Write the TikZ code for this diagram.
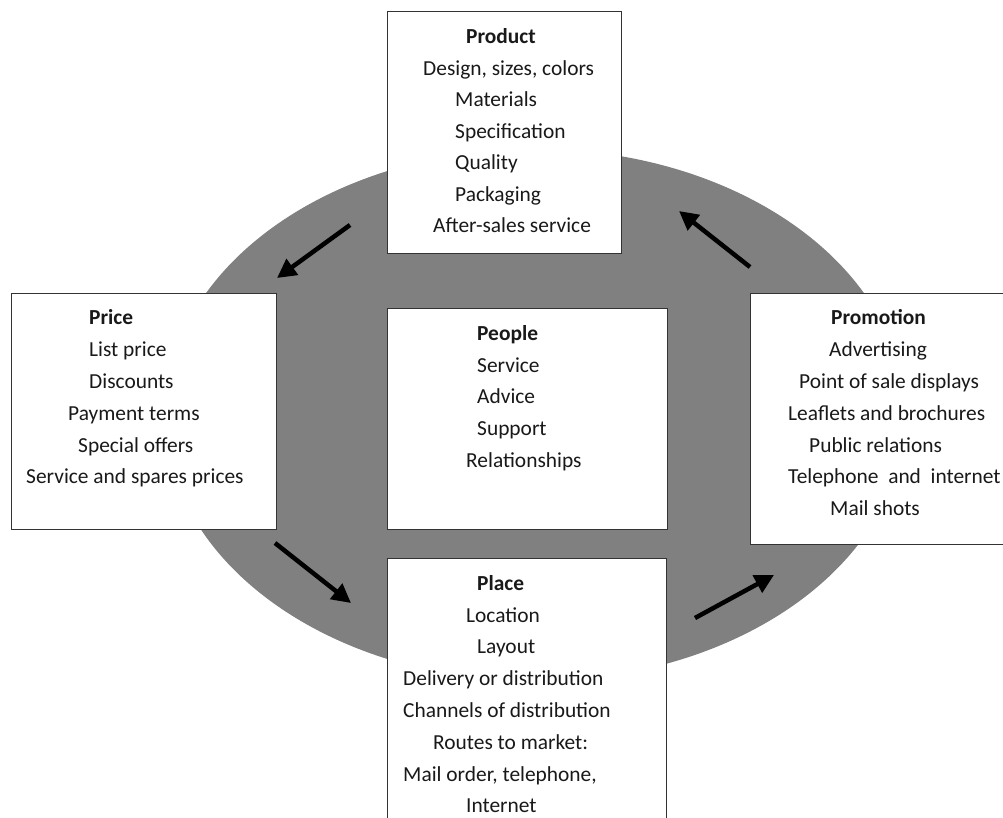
\documentclass[tikz,border=0pt]{standalone}
\usepackage{fontspec}
\setmainfont{Carlito}
\usetikzlibrary{arrows.meta}
\tikzset{
  box/.style={draw=black!80, line width=1.3pt, fill=white, anchor=north west, inner sep=0pt},
  txt/.style={anchor=base west, inner sep=0pt, font=\fontsize{21.4}{26}\selectfont, text=black!90},
  hd/.style={txt, font=\fontsize{21.4}{26}\selectfont\bfseries},
  flow/.style={line width=4.5pt, -{Triangle[length=19pt,width=19pt]}},
}
\begin{document}
\begin{tikzpicture}[x=1pt,y=-1pt]
\useasboundingbox (0,0) rectangle (1003,817);
\begin{scope}
\clip (0,0) rectangle (1003,817);
\fill[fill=black!50] (535,415) ellipse [x radius=370, y radius=266];
% boxes
\node[box, minimum width=234pt, minimum height=242pt] (productbox) at (387,11) {};
\node[box, minimum width=265pt, minimum height=236pt] (pricebox) at (11,293) {};
\node[box, minimum width=280pt, minimum height=221pt] (peoplebox) at (387,308) {};
\node[box, minimum width=290pt, minimum height=251pt] (promobox) at (750,293) {};
\node[box, minimum width=279pt, minimum height=290pt] (placebox) at (387,558) {};
% Product
\node[hd]  (pr0) at (466,43)  {Product};
\node[txt] (pr1) at (423,75)  {Design, sizes, colors};
\node[txt] (pr2) at (455,106) {Materials};
\node[txt] (pr3) at (455,138) {Specification};
\node[txt] (pr4) at (455,169) {Quality};
\node[txt] (pr5) at (455,201) {Packaging};
\node[txt] (pr6) at (433,232) {After-sales service};
% Price
\node[hd]  (pc0) at (89,324) {Price};
\node[txt] (pc1) at (89,356) {List price};
\node[txt] (pc2) at (89,388) {Discounts};
\node[txt] (pc3) at (68,420) {Payment terms};
\node[txt] (pc4) at (78,452) {Special offers};
\node[txt] (pc5) at (26,483) {Service and spares prices};
% People
\node[hd]  (pe0) at (477,340) {People};
\node[txt] (pe1) at (477,372) {Service};
\node[txt] (pe2) at (477,403) {Advice};
\node[txt] (pe3) at (477,435) {Support};
\node[txt] (pe4) at (466,467) {Relationships};
% Promotion
\node[hd]  (pm0) at (831,324) {Promotion};
\node[txt] (pm1) at (829,356) {Advertising};
\node[txt] (pm2) at (799,388) {Point of sale displays};
\node[txt] (pm3) at (788,420) {Leaflets and brochures};
\node[txt] (pm4) at (809,452) {Public relations};
\node[txt] (pm5) at (788,483) {Telephone\ \ and\ \ internet};
\node[txt] (pm6) at (830,515) {Mail shots};
% Place
\node[hd]  (pl0) at (477,590) {Place};
\node[txt] (pl1) at (466,622) {Location};
\node[txt] (pl2) at (477,653) {Layout};
\node[txt] (pl3) at (403,685) {Delivery or distribution};
\node[txt] (pl4) at (403,717) {Channels of distribution};
\node[txt] (pl5) at (433,749) {Routes to market:};
\node[txt] (pl6) at (403,781) {Mail order, telephone,};
\node[txt] (pl7) at (466,812) {Internet};
% arrows
\coordinate (a1s) at (350,225); \coordinate (a1e) at (277,278);
\coordinate (a2s) at (275,543); \coordinate (a2e) at (351,603);
\coordinate (a3s) at (695,618); \coordinate (a3e) at (774,575);
\coordinate (a4s) at (750,267); \coordinate (a4e) at (679,211);
\draw[flow] (a1s) -- (a1e);
\draw[flow] (a2s) -- (a2e);
\draw[flow] (a3s) -- (a3e);
\draw[flow] (a4s) -- (a4e);
\end{scope}
\end{tikzpicture}
\end{document}
